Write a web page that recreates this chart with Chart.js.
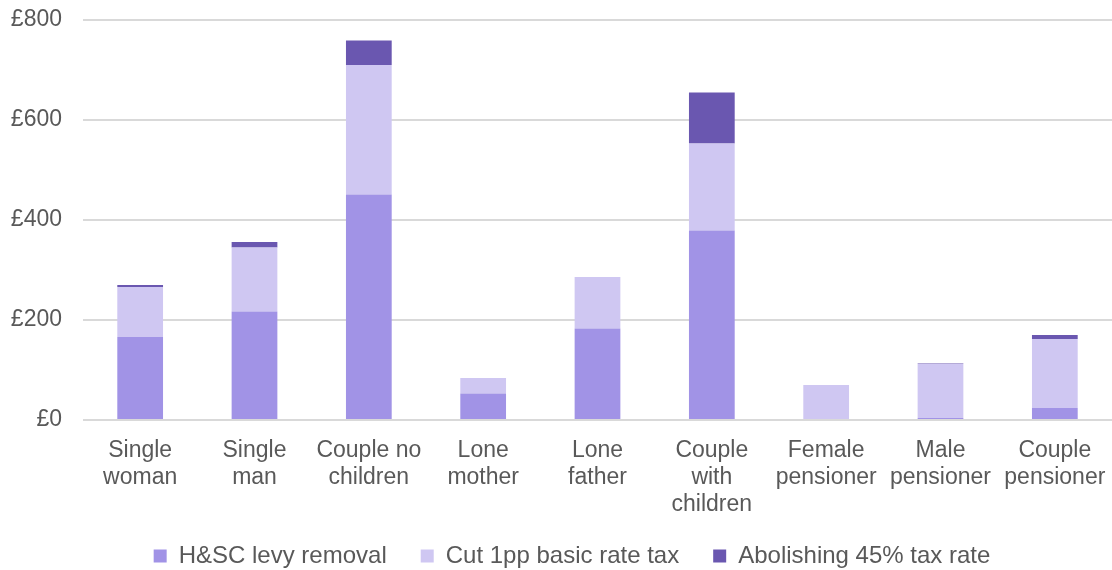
<!DOCTYPE html>
<html>
<head>
<meta charset="utf-8">
<script src="https://cdn.jsdelivr.net/npm/chart.js@4/dist/chart.umd.min.js"></script>
<style>
  html, body { margin: 0; padding: 0; background: #fff; }
  #wrap { width: 1112px; height: 570px; position: relative; }
</style>
</head>
<body>
<div id="wrap"><canvas id="gain-canvas"></canvas></div>
<script>
// household types (multi-line labels as in the original)
const households = [
    ['Single', 'woman'],
    ['Single', 'man'],
    ['Couple no', 'children'],
    ['Lone', 'mother'],
    ['Lone', 'father'],
    ['Couple', 'with', 'children'],
    ['Female', 'pensioner'],
    ['Male', 'pensioner'],
    ['Couple', 'pensioner']
];

// annual gain, £
const levyRemoval = [166, 217, 451, 53, 183, 379, 0, 4, 24];
const basicRateCut = [100, 128, 259, 31, 103, 174, 70, 108, 138];
const topRateAbolished = [4, 11, 49, 0, 0, 102, 0, 1, 8];

const yTicks = [0, 200, 400, 600, 800];

const textGrey = '#595959';
const fontFamily = "'Liberation Sans', Arial, sans-serif";

// legend padding is wide for the gaps between items, but keep the box itself short
// and nudge it up/right so it sits where the original one does
const legendPlace = {
    id: 'legendPlace',
    afterInit(chart) {
        let legend = chart.legend;
        let fit = legend.fit.bind(legend);
        legend.fit = function () {
            fit();
            this.height = 50;
        };
    },
    afterLayout(chart) {
        let legend = chart.legend;
        legend.top -= 10;
        legend.left += 16;
        legend.right += 16;
    }
};

let ctx = document.getElementById('gain-canvas').getContext('2d');
let chart = new Chart(ctx, {
    type: 'bar',
    data: {
        labels: households,
        datasets: [{
            label: 'H&SC levy removal',
            backgroundColor: '#A193E6',
            data: levyRemoval
        }, {
            label: 'Cut 1pp basic rate tax',
            backgroundColor: '#CFC7F2',
            data: basicRateCut
        }, {
            label: 'Abolishing 45% tax rate',
            backgroundColor: '#6A57B0',
            data: topRateAbolished
        }]
    },
    plugins: [legendPlace],
    options: {
        responsive: true,
        maintainAspectRatio: false,
        animation: false,
        datasets: {
            bar: { categoryPercentage: 1, barPercentage: 0.4 }
        },
        layout: { padding: { top: 20, right: 0, bottom: 0, left: 0 } },
        plugins: {
            tooltip: { enabled: false },
            legend: {
                position: 'bottom',
                labels: {
                    boxWidth: 13,
                    boxHeight: 13,
                    padding: 34,
                    color: textGrey,
                    font: { family: fontFamily, size: 24 }
                }
            }
        },
        scales: {
            x: {
                stacked: true,
                grid: { display: false },
                border: { display: false },
                afterFit: (axis) => { axis.paddingLeft = 0; axis.paddingRight = 0; axis.height = 100; },
                ticks: {
                    color: textGrey,
                    padding: 9,
                    maxRotation: 0,
                    autoSkip: false,
                    font: { family: fontFamily, size: 23, lineHeight: 1.174 }
                }
            },
            y: {
                stacked: true,
                min: 0,
                max: 800,
                afterBuildTicks: (axis) => { axis.ticks = yTicks.map(v => ({ value: v })); },
                afterFit: (axis) => { axis.width = 83; axis.paddingTop = 0; },
                border: { display: false },
                grid: { color: '#D9D9D9', lineWidth: 2, drawTicks: false },
                ticks: {
                    color: textGrey,
                    padding: 21,
                    font: { family: fontFamily, size: 23 },
                    callback: (v) => '£' + v
                }
            }
        }
    }
});
</script>
</body>
</html>
